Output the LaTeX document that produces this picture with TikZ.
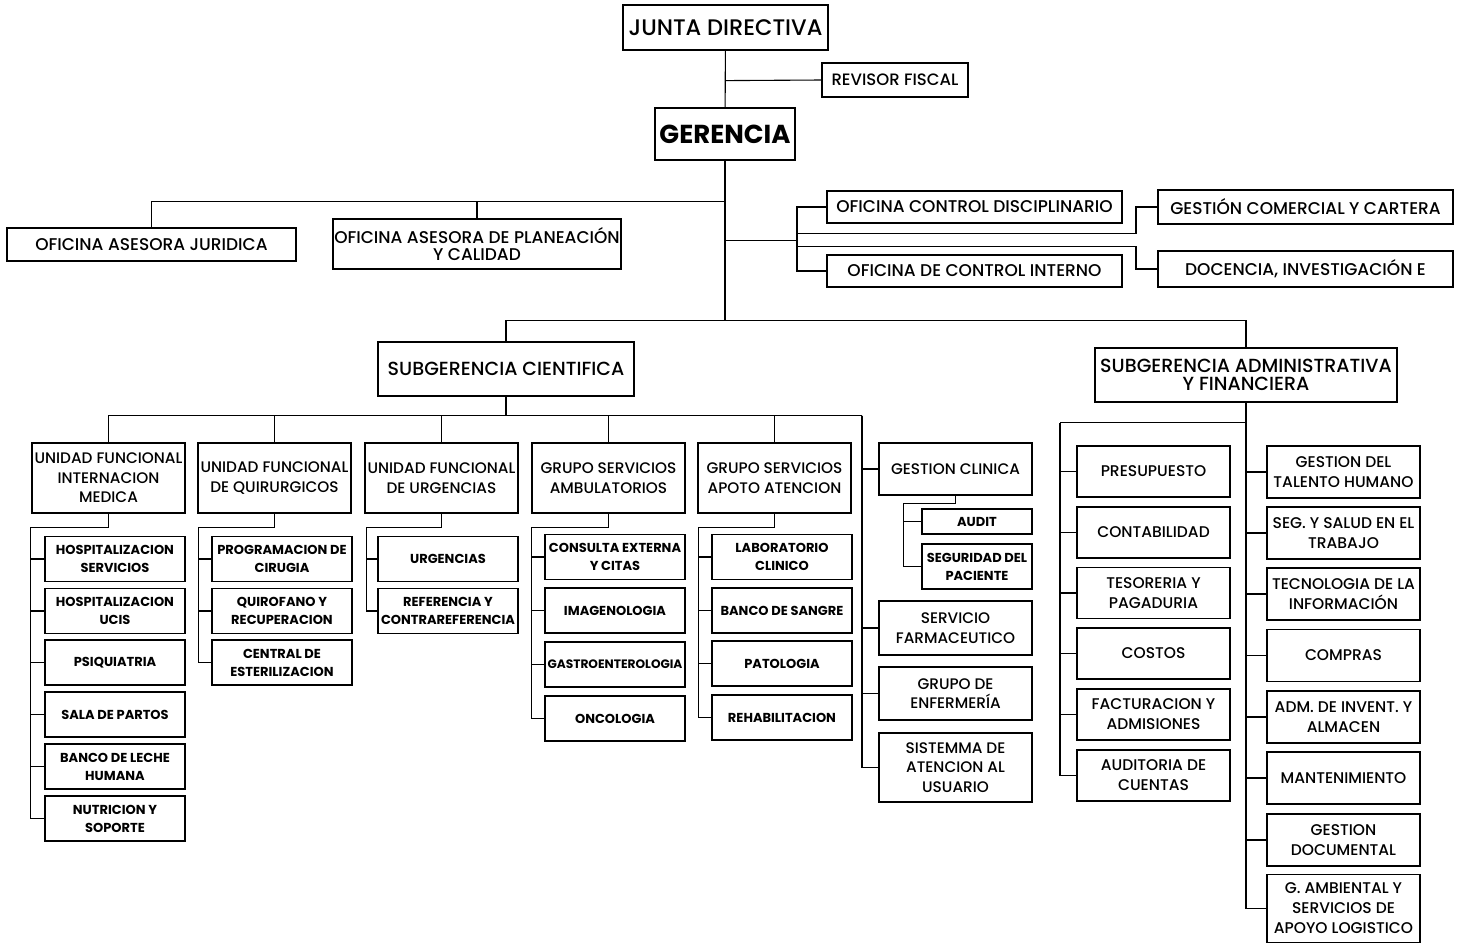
\documentclass[tikz,border=0pt]{standalone}
\usepackage{fontspec}
\setmainfont{Poppins}[UprightFont=* Medium, BoldFont=* Bold]

\begin{document}
\begin{tikzpicture}[x=1pt,y=-1pt,
    box/.style={draw, line width=1.2pt, inner sep=0pt, align=center},
    head/.style={box, font=\fontsize{22.5}{24}\selectfont},
    office/.style={box, minimum width=295, font=\fontsize{17}{17.5}\selectfont},
    subg/.style={box, minimum height=54, font=\fontsize{19}{17.5}\selectfont},
    unit/.style={box, minimum width=153, minimum height=70, font=\fontsize{15.3}{19.5}\selectfont},
    leaf/.style={box, minimum width=140, minimum height=45, font=\bfseries\fontsize{13}{18}\selectfont},
    adm/.style={box, minimum width=153, minimum height=51, font=\fontsize{15.5}{20}\selectfont},
    link/.style={line width=1.1pt}]
    \useasboundingbox (0,0) rectangle (1460,943);
    %\draw[very thin,color=gray] (0,0) grid[step=50] (1460,943);

    % direccion
    \node[head, minimum width=205, minimum height=45] (junta) at (725.5,27.5) {JUNTA DIRECTIVA};
    \node[box, minimum width=146, minimum height=34, font=\fontsize{16.5}{18}\selectfont] (revisor) at (895,80) {REVISOR FISCAL};
    \node[box, minimum width=140, minimum height=52, font=\bfseries\fontsize{26}{28}\selectfont] (gerencia) at (725,134) {GERENCIA};
    \draw[link] (junta) -- (gerencia);
    \draw[link] (junta.south) ++(0,30) -- (revisor.west);

    % oficinas asesoras
    \node[office, minimum width=289, minimum height=33] (juridica) at (151.5,244.5) {OFICINA ASESORA JURIDICA};
    \node[office, minimum width=288, minimum height=50] (planeacion) at (477,244) {OFICINA ASESORA DE PLANEACIÓN\\Y CALIDAD};
    \node[office, minimum height=32] (disciplinario) at (974.5,207) {OFICINA CONTROL DISCIPLINARIO};
    \node[office, minimum height=32] (interno) at (974.5,271) {OFICINA DE CONTROL INTERNO};
    \node[office, minimum height=34] (comercial) at (1305.5,207) {GESTIÓN COMERCIAL Y CARTERA};
    \node[office, minimum height=36] (docencia) at (1305.5,269) {DOCENCIA, INVESTIGACIÓN E};
    \draw[link] (gerencia.south) ++(0,41) -| (juridica.north);
    \draw[link] (gerencia.south) ++(0,41) -| (planeacion.north);
    \draw[link] (gerencia.south) ++(0,80) -- ++(72,0) coordinate (rbus);
    \draw[link] (rbus) |- (disciplinario.west);
    \draw[link] (rbus) |- (interno.west);
    \draw[link] (rbus) ++(0,-7) -- ++(339,0) |- (comercial.west);
    \draw[link] (rbus) ++(0,6) -- ++(339,0) |- (docencia.west);

    % subgerencias
    \node[subg, minimum width=256] (subcien) at (506,369) {SUBGERENCIA CIENTIFICA};
    \node[subg, minimum width=302] (subadm) at (1246,375) {SUBGERENCIA ADMINISTRATIVA\\Y FINANCIERA};
    \draw[link] (gerencia.south) ++(0,160) -| (subcien.north);
    \draw[link] (gerencia.south) ++(0,160) -| (subadm.north);
    \draw[link] (gerencia.south) -- ++(0,160);

    % unidades funcionales
    \node[unit] (u1) at (108.5,478) {UNIDAD FUNCIONAL\\INTERNACION\\MEDICA};
    \node[unit] (u2) at (274.5,478) {UNIDAD FUNCIONAL\\DE QUIRURGICOS};
    \node[unit] (u3) at (441.5,478) {UNIDAD FUNCIONAL\\DE URGENCIAS};
    \node[unit] (u4) at (608.5,478) {GRUPO SERVICIOS\\AMBULATORIOS};
    \node[unit] (u5) at (774.5,478) {GRUPO SERVICIOS\\APOTO ATENCION};
    \foreach \u in {u1,u2,u3,u4,u5}
        \draw[link] (subcien.south) -- ++(0,19) -| (\u.north);

    \node[leaf] (a1) at (115,559) {HOSPITALIZACION\\SERVICIOS};
    \node[leaf] (a2) at (115,611) {HOSPITALIZACION\\UCIS};
    \node[leaf] (a3) at (115,662.5) {PSIQUIATRIA};
    \node[leaf] (a4) at (115,714.5) {SALA DE PARTOS};
    \node[leaf] (a5) at (115,766.5) {BANCO DE LECHE\\HUMANA};
    \node[leaf] (a6) at (115,818.5) {NUTRICION Y\\SOPORTE};
    \foreach \k in {a1,a2,a3,a4,a5,a6}
        \draw[link] (u1.south) -- ++(0,14) -| ([xshift=-14pt]\k.west) -- (\k.west);

    \node[leaf] (b1) at (282,559) {PROGRAMACION DE\\CIRUGIA};
    \node[leaf] (b2) at (282,611) {QUIROFANO Y\\RECUPERACION};
    \node[leaf] (b3) at (282,662.5) {CENTRAL DE\\ESTERILIZACION};
    \foreach \k in {b1,b2,b3}
        \draw[link] (u2.south) -- ++(0,14) -| ([xshift=-13pt]\k.west) -- (\k.west);

    \node[leaf] (c1) at (448,559) {URGENCIAS};
    \node[leaf] (c2) at (448,611) {REFERENCIA Y\\CONTRAREFERENCIA};
    \foreach \k in {c1,c2}
        \draw[link] (u3.south) -- ++(0,14) -| ([xshift=-11pt]\k.west) -- (\k.west);

    \node[leaf] (d1) at (615,557) {CONSULTA EXTERNA\\Y CITAS};
    \node[leaf] (d2) at (615,610.5) {IMAGENOLOGIA};
    \node[leaf, font=\bfseries\fontsize{12.2}{18}\selectfont] (d3) at (615,664.5) {GASTROENTEROLOGIA};
    \node[leaf] (d4) at (615,718.5) {ONCOLOGIA};
    \foreach \k in {d1,d2,d3,d4}
        \draw[link] (u4.south) -- ++(0,14) -| ([xshift=-13pt]\k.west) -- (\k.west);

    \node[leaf] (e1) at (782,557) {LABORATORIO\\CLINICO};
    \node[leaf] (e2) at (782,610.5) {BANCO DE SANGRE};
    \node[leaf] (e3) at (782,663.5) {PATOLOGIA};
    \node[leaf] (e4) at (782,717.5) {REHABILITACION};
    \foreach \k in {e1,e2,e3,e4}
        \draw[link] (u5.south) -- ++(0,14) -| ([xshift=-13pt]\k.west) -- (\k.west);

    % columna de gestion clinica
    \node[unit, minimum height=52] (gc) at (955.5,469) {GESTION CLINICA};
    \node[leaf, minimum width=110, minimum height=25] (audit) at (977,521.5) {AUDIT};
    \node[leaf, minimum width=110] (seg) at (977,566.5) {SEGURIDAD DEL\\PACIENTE};
    \node[unit, minimum height=54] (farma) at (955.5,628) {SERVICIO\\FARMACEUTICO};
    \node[unit, minimum height=53] (enf) at (955.5,693.5) {GRUPO DE\\ENFERMERÍA};
    \node[unit, minimum height=69] (siau) at (955.5,767.5) {SISTEMMA DE\\ATENCION AL\\USUARIO};
    \draw[link] (subcien.south) ++(0,19) -- ++(356,0) coordinate (cbus);
    \foreach \n in {gc,farma,enf,siau}
        \draw[link] (cbus) |- (\n.west);
    \foreach \k in {audit,seg}
        \draw[link] (gc.south) -- ++(0,8) -| ([xshift=-18pt]\k.west) -- (\k.west);

    % subgerencia administrativa
    \node[adm] (f1) at (1153.5,471.5) {PRESUPUESTO};
    \node[adm] (f2) at (1153.5,532.5) {CONTABILIDAD};
    \node[adm] (f3) at (1153.5,593) {TESORERIA Y\\PAGADURIA};
    \node[adm] (f4) at (1153.5,653.5) {COSTOS};
    \node[adm] (f5) at (1153.5,714.5) {FACTURACION Y\\ADMISIONES};
    \node[adm] (f6) at (1153.5,775.5) {AUDITORIA DE\\CUENTAS};
    \draw[link] (subadm.south) -- ++(0,20) -- ++(-186,0) coordinate (abus);
    \foreach \n in {f1,f2,f3,f4,f5,f6}
        \draw[link] (abus) |- (\n.west);

    \node[adm, minimum height=52] (g1) at (1343.5,472) {GESTION DEL\\TALENTO HUMANO};
    \node[adm, minimum height=52] (g2) at (1343.5,533) {SEG. Y SALUD EN EL\\TRABAJO};
    \node[adm, minimum height=52] (g3) at (1343.5,594) {TECNOLOGIA DE LA\\INFORMACIÓN};
    \node[adm, minimum height=52] (g4) at (1343.5,655.5) {COMPRAS};
    \node[adm, minimum height=52] (g5) at (1343.5,717) {ADM. DE INVENT. Y\\ALMACEN};
    \node[adm, minimum height=52] (g6) at (1343.5,778) {MANTENIMIENTO};
    \node[adm, minimum height=52] (g7) at (1343.5,840) {GESTION\\DOCUMENTAL};
    \node[adm, minimum height=68] (g8) at (1343.5,908.5) {G. AMBIENTAL Y\\SERVICIOS DE\\APOYO LOGISTICO};
    \foreach \n in {g1,g2,g3,g4,g5,g6,g7,g8}
        \draw[link] (subadm.south) |- (\n.west);
\end{tikzpicture}
\end{document}
